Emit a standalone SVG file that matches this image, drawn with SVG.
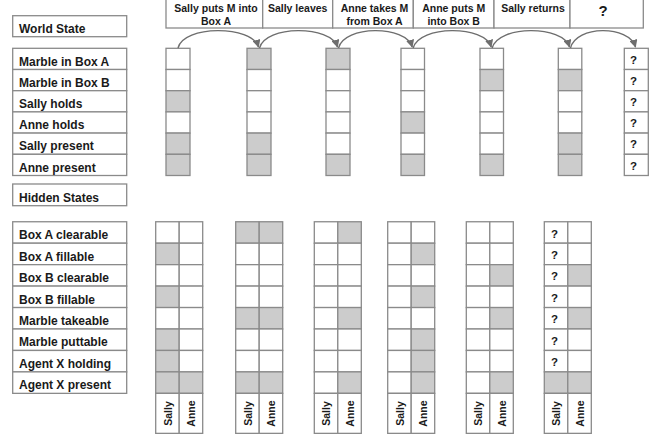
<svg xmlns="http://www.w3.org/2000/svg" width="665" height="438" viewBox="0 0 665 438">
<style>
  .bx { fill: #ffffff; stroke: #8a8a8a; stroke-width: 1.3; }
  .g { fill: #cccccc; stroke: #8a8a8a; stroke-width: 1.3; }
  .lbl { font-family: "Liberation Sans", Arial, sans-serif; font-weight: bold; font-size: 12px; fill: #1a1a1a; }
  .ev { font-family: "Liberation Sans", Arial, sans-serif; font-weight: bold; font-size: 10.5px; fill: #1a1a1a; text-anchor: middle; }
  .q { font-family: "Liberation Sans", Arial, sans-serif; font-weight: bold; font-size: 11.5px; fill: #1a1a1a; }
  .nm { font-family: "Liberation Sans", Arial, sans-serif; font-weight: bold; font-size: 10.5px; fill: #1a1a1a; text-anchor: middle; }
  .arc { fill: none; stroke: #6e6e6e; stroke-width: 1.4; }
</style>
<defs>
  <marker id="ah" viewBox="0 0 10 10" refX="9" refY="5" markerWidth="8" markerHeight="8" orient="auto" markerUnits="userSpaceOnUse">
    <path d="M0,0 L10,5 L0,10 z" fill="#6e6e6e"/>
  </marker>
</defs>
<rect width="665" height="438" fill="#ffffff"/>

<!-- Events -->
<g id="events">
  <rect class="bx" x="166" y="-2" width="96.7" height="30"/>
  <rect class="bx" x="262.7" y="-2" width="70" height="30"/>
  <rect class="bx" x="332.7" y="-2" width="80.6" height="30"/>
  <rect class="bx" x="413.3" y="-2" width="80.7" height="30"/>
  <rect class="bx" x="494" y="-2" width="76" height="30"/>
  <rect class="bx" x="570" y="-2" width="73.3" height="30"/>
  <text class="ev" x="216" y="12">Sally puts M into</text>
  <text class="ev" x="216" y="25">Box A</text>
  <text class="ev" x="297.7" y="12">Sally leaves</text>
  <text class="ev" x="374.5" y="12">Anne takes M</text>
  <text class="ev" x="374.5" y="25">from Box A</text>
  <text class="ev" x="453.7" y="12">Anne puts M</text>
  <text class="ev" x="453.7" y="25">into Box B</text>
  <text class="ev" x="533" y="12">Sally returns</text>
  <text class="ev" x="603" y="16" style="font-size:15px">?</text>
</g>

<!-- World State labels -->
<g id="world-state-title">
  <rect class="bx" x="12.7" y="15.7" width="114" height="21"/>
  <text class="lbl" x="19" y="33">World State</text>
</g>
<g id="world-labels">
  <rect class="bx" x="12.7" y="48.3" width="114" height="21.2"/>
  <rect class="bx" x="12.7" y="69.5" width="114" height="21.2"/>
  <rect class="bx" x="12.7" y="90.7" width="114" height="21.2"/>
  <rect class="bx" x="12.7" y="111.9" width="114" height="21.2"/>
  <rect class="bx" x="12.7" y="133.1" width="114" height="21.2"/>
  <rect class="bx" x="12.7" y="154.3" width="114" height="21.2"/>
  <text class="lbl" x="19" y="65.6">Marble in Box A</text>
  <text class="lbl" x="19" y="86.8">Marble in Box B</text>
  <text class="lbl" x="19" y="108">Sally holds</text>
  <text class="lbl" x="19" y="129.2">Anne holds</text>
  <text class="lbl" x="19" y="150.4">Sally present</text>
  <text class="lbl" x="19" y="171.6">Anne present</text>
</g>

<!-- World columns -->
<g id="world-col-1">
  <rect class="bx" x="166" y="48.3" width="24" height="21.2"/>
  <rect class="bx" x="166" y="69.5" width="24" height="21.2"/>
  <rect class="g" x="166" y="90.7" width="24" height="21.2"/>
  <rect class="bx" x="166" y="111.9" width="24" height="21.2"/>
  <rect class="g" x="166" y="133.1" width="24" height="21.2"/>
  <rect class="g" x="166" y="154.3" width="24" height="21.2"/>
</g>
<g id="world-col-2">
  <rect class="g" x="247" y="48.3" width="24" height="21.2"/>
  <rect class="bx" x="247" y="69.5" width="24" height="21.2"/>
  <rect class="bx" x="247" y="90.7" width="24" height="21.2"/>
  <rect class="bx" x="247" y="111.9" width="24" height="21.2"/>
  <rect class="g" x="247" y="133.1" width="24" height="21.2"/>
  <rect class="g" x="247" y="154.3" width="24" height="21.2"/>
</g>
<g id="world-col-3">
  <rect class="g" x="326" y="48.3" width="24" height="21.2"/>
  <rect class="bx" x="326" y="69.5" width="24" height="21.2"/>
  <rect class="bx" x="326" y="90.7" width="24" height="21.2"/>
  <rect class="bx" x="326" y="111.9" width="24" height="21.2"/>
  <rect class="bx" x="326" y="133.1" width="24" height="21.2"/>
  <rect class="g" x="326" y="154.3" width="24" height="21.2"/>
</g>
<g id="world-col-4">
  <rect class="bx" x="401" y="48.3" width="23.5" height="21.2"/>
  <rect class="bx" x="401" y="69.5" width="23.5" height="21.2"/>
  <rect class="bx" x="401" y="90.7" width="23.5" height="21.2"/>
  <rect class="g" x="401" y="111.9" width="23.5" height="21.2"/>
  <rect class="bx" x="401" y="133.1" width="23.5" height="21.2"/>
  <rect class="g" x="401" y="154.3" width="23.5" height="21.2"/>
</g>
<g id="world-col-5">
  <rect class="bx" x="480" y="48.3" width="23.5" height="21.2"/>
  <rect class="g" x="480" y="69.5" width="23.5" height="21.2"/>
  <rect class="bx" x="480" y="90.7" width="23.5" height="21.2"/>
  <rect class="bx" x="480" y="111.9" width="23.5" height="21.2"/>
  <rect class="bx" x="480" y="133.1" width="23.5" height="21.2"/>
  <rect class="g" x="480" y="154.3" width="23.5" height="21.2"/>
</g>
<g id="world-col-6">
  <rect class="bx" x="558.3" y="48.3" width="23.5" height="21.2"/>
  <rect class="g" x="558.3" y="69.5" width="23.5" height="21.2"/>
  <rect class="bx" x="558.3" y="90.7" width="23.5" height="21.2"/>
  <rect class="bx" x="558.3" y="111.9" width="23.5" height="21.2"/>
  <rect class="g" x="558.3" y="133.1" width="23.5" height="21.2"/>
  <rect class="g" x="558.3" y="154.3" width="23.5" height="21.2"/>
</g>
<g id="world-col-7">
  <rect class="bx" x="624.3" y="48.3" width="24" height="21.2"/>
  <rect class="bx" x="624.3" y="69.5" width="24" height="21.2"/>
  <rect class="bx" x="624.3" y="90.7" width="24" height="21.2"/>
  <rect class="bx" x="624.3" y="111.9" width="24" height="21.2"/>
  <rect class="bx" x="624.3" y="133.1" width="24" height="21.2"/>
  <rect class="bx" x="624.3" y="154.3" width="24" height="21.2"/>
  <text class="q" x="630" y="63.6">?</text>
  <text class="q" x="630" y="84.8">?</text>
  <text class="q" x="630" y="106">?</text>
  <text class="q" x="630" y="127.2">?</text>
  <text class="q" x="630" y="148.4">?</text>
  <text class="q" x="630" y="169.6">?</text>
</g>

<!-- Connectors -->
<g id="connectors">
  <path class="arc" d="M178,48 C183,25 252,25 258.5,47" marker-end="url(#ah)"/>
  <path class="arc" d="M259.5,48 C265,25 331,25 337.5,47" marker-end="url(#ah)"/>
  <path class="arc" d="M338.5,48 C344,25 406,25 412.2,47" marker-end="url(#ah)"/>
  <path class="arc" d="M413.2,48 C419,25 485,25 491.2,47" marker-end="url(#ah)"/>
  <path class="arc" d="M492.2,48 C498,25 563,25 569.5,47" marker-end="url(#ah)"/>
  <path class="arc" d="M570.5,48 C576,25 629,25 635.5,47" marker-end="url(#ah)"/>
</g>

<!-- Hidden States labels -->
<g id="hidden-states-title">
  <rect class="bx" x="12.7" y="184" width="114" height="21.7"/>
  <text class="lbl" x="19" y="202">Hidden States</text>
</g>
<g id="hidden-labels">
  <rect class="bx" x="12.7" y="221.75" width="114" height="21.45"/>
  <rect class="bx" x="12.7" y="243.2" width="114" height="21.45"/>
  <rect class="bx" x="12.7" y="264.65" width="114" height="21.45"/>
  <rect class="bx" x="12.7" y="286.1" width="114" height="21.45"/>
  <rect class="bx" x="12.7" y="307.55" width="114" height="21.45"/>
  <rect class="bx" x="12.7" y="329" width="114" height="21.45"/>
  <rect class="bx" x="12.7" y="350.45" width="114" height="21.45"/>
  <rect class="bx" x="12.7" y="371.9" width="114" height="21.45"/>
  <text class="lbl" x="19" y="239.2">Box A clearable</text>
  <text class="lbl" x="19" y="260.65">Box A fillable</text>
  <text class="lbl" x="19" y="282.1">Box B clearable</text>
  <text class="lbl" x="19" y="303.55">Box B fillable</text>
  <text class="lbl" x="19" y="325">Marble takeable</text>
  <text class="lbl" x="19" y="346.45">Marble puttable</text>
  <text class="lbl" x="19" y="367.9">Agent X holding</text>
  <text class="lbl" x="19" y="389.35">Agent X present</text>
</g>

<!-- Hidden grids: columns Sally / Anne -->
<g id="hidden-grid-1">
  <rect class="bx" x="155.7" y="221.75" width="23.5" height="21.45"/><rect class="bx" x="179.2" y="221.75" width="23.5" height="21.45"/>
  <rect class="g" x="155.7" y="243.2" width="23.5" height="21.45"/><rect class="bx" x="179.2" y="243.2" width="23.5" height="21.45"/>
  <rect class="bx" x="155.7" y="264.65" width="23.5" height="21.45"/><rect class="bx" x="179.2" y="264.65" width="23.5" height="21.45"/>
  <rect class="g" x="155.7" y="286.1" width="23.5" height="21.45"/><rect class="bx" x="179.2" y="286.1" width="23.5" height="21.45"/>
  <rect class="bx" x="155.7" y="307.55" width="23.5" height="21.45"/><rect class="bx" x="179.2" y="307.55" width="23.5" height="21.45"/>
  <rect class="g" x="155.7" y="329" width="23.5" height="21.45"/><rect class="bx" x="179.2" y="329" width="23.5" height="21.45"/>
  <rect class="g" x="155.7" y="350.45" width="23.5" height="21.45"/><rect class="bx" x="179.2" y="350.45" width="23.5" height="21.45"/>
  <rect class="g" x="155.7" y="371.9" width="23.5" height="21.45"/><rect class="g" x="179.2" y="371.9" width="23.5" height="21.45"/>
  <rect class="bx" x="155.7" y="393.35" width="23.5" height="40"/><rect class="bx" x="179.2" y="393.35" width="23.5" height="40"/>
  <text class="nm" transform="translate(171.6,413.5) rotate(-90)">Sally</text>
  <text class="nm" transform="translate(195.1,413.5) rotate(-90)">Anne</text>
</g>
<g id="hidden-grid-2">
  <rect class="g" x="235.7" y="221.75" width="23.5" height="21.45"/><rect class="g" x="259.2" y="221.75" width="23.5" height="21.45"/>
  <rect class="bx" x="235.7" y="243.2" width="23.5" height="21.45"/><rect class="bx" x="259.2" y="243.2" width="23.5" height="21.45"/>
  <rect class="bx" x="235.7" y="264.65" width="23.5" height="21.45"/><rect class="bx" x="259.2" y="264.65" width="23.5" height="21.45"/>
  <rect class="bx" x="235.7" y="286.1" width="23.5" height="21.45"/><rect class="bx" x="259.2" y="286.1" width="23.5" height="21.45"/>
  <rect class="g" x="235.7" y="307.55" width="23.5" height="21.45"/><rect class="g" x="259.2" y="307.55" width="23.5" height="21.45"/>
  <rect class="bx" x="235.7" y="329" width="23.5" height="21.45"/><rect class="bx" x="259.2" y="329" width="23.5" height="21.45"/>
  <rect class="bx" x="235.7" y="350.45" width="23.5" height="21.45"/><rect class="bx" x="259.2" y="350.45" width="23.5" height="21.45"/>
  <rect class="g" x="235.7" y="371.9" width="23.5" height="21.45"/><rect class="g" x="259.2" y="371.9" width="23.5" height="21.45"/>
  <rect class="bx" x="235.7" y="393.35" width="23.5" height="40"/><rect class="bx" x="259.2" y="393.35" width="23.5" height="40"/>
  <text class="nm" transform="translate(251.6,413.5) rotate(-90)">Sally</text>
  <text class="nm" transform="translate(275.1,413.5) rotate(-90)">Anne</text>
</g>
<g id="hidden-grid-3">
  <rect class="bx" x="314.3" y="221.75" width="23.5" height="21.45"/><rect class="g" x="337.8" y="221.75" width="23.5" height="21.45"/>
  <rect class="bx" x="314.3" y="243.2" width="23.5" height="21.45"/><rect class="bx" x="337.8" y="243.2" width="23.5" height="21.45"/>
  <rect class="bx" x="314.3" y="264.65" width="23.5" height="21.45"/><rect class="bx" x="337.8" y="264.65" width="23.5" height="21.45"/>
  <rect class="bx" x="314.3" y="286.1" width="23.5" height="21.45"/><rect class="bx" x="337.8" y="286.1" width="23.5" height="21.45"/>
  <rect class="bx" x="314.3" y="307.55" width="23.5" height="21.45"/><rect class="g" x="337.8" y="307.55" width="23.5" height="21.45"/>
  <rect class="bx" x="314.3" y="329" width="23.5" height="21.45"/><rect class="bx" x="337.8" y="329" width="23.5" height="21.45"/>
  <rect class="bx" x="314.3" y="350.45" width="23.5" height="21.45"/><rect class="bx" x="337.8" y="350.45" width="23.5" height="21.45"/>
  <rect class="bx" x="314.3" y="371.9" width="23.5" height="21.45"/><rect class="g" x="337.8" y="371.9" width="23.5" height="21.45"/>
  <rect class="bx" x="314.3" y="393.35" width="23.5" height="40"/><rect class="bx" x="337.8" y="393.35" width="23.5" height="40"/>
  <text class="nm" transform="translate(330.2,413.5) rotate(-90)">Sally</text>
  <text class="nm" transform="translate(353.7,413.5) rotate(-90)">Anne</text>
</g>
<g id="hidden-grid-4">
  <rect class="bx" x="387.7" y="221.75" width="23.5" height="21.45"/><rect class="bx" x="411.2" y="221.75" width="23.5" height="21.45"/>
  <rect class="bx" x="387.7" y="243.2" width="23.5" height="21.45"/><rect class="g" x="411.2" y="243.2" width="23.5" height="21.45"/>
  <rect class="bx" x="387.7" y="264.65" width="23.5" height="21.45"/><rect class="bx" x="411.2" y="264.65" width="23.5" height="21.45"/>
  <rect class="bx" x="387.7" y="286.1" width="23.5" height="21.45"/><rect class="g" x="411.2" y="286.1" width="23.5" height="21.45"/>
  <rect class="bx" x="387.7" y="307.55" width="23.5" height="21.45"/><rect class="bx" x="411.2" y="307.55" width="23.5" height="21.45"/>
  <rect class="bx" x="387.7" y="329" width="23.5" height="21.45"/><rect class="g" x="411.2" y="329" width="23.5" height="21.45"/>
  <rect class="bx" x="387.7" y="350.45" width="23.5" height="21.45"/><rect class="g" x="411.2" y="350.45" width="23.5" height="21.45"/>
  <rect class="bx" x="387.7" y="371.9" width="23.5" height="21.45"/><rect class="g" x="411.2" y="371.9" width="23.5" height="21.45"/>
  <rect class="bx" x="387.7" y="393.35" width="23.5" height="40"/><rect class="bx" x="411.2" y="393.35" width="23.5" height="40"/>
  <text class="nm" transform="translate(403.6,413.5) rotate(-90)">Sally</text>
  <text class="nm" transform="translate(427.1,413.5) rotate(-90)">Anne</text>
</g>
<g id="hidden-grid-5">
  <rect class="bx" x="466.3" y="221.75" width="23.5" height="21.45"/><rect class="bx" x="489.8" y="221.75" width="23.5" height="21.45"/>
  <rect class="bx" x="466.3" y="243.2" width="23.5" height="21.45"/><rect class="bx" x="489.8" y="243.2" width="23.5" height="21.45"/>
  <rect class="bx" x="466.3" y="264.65" width="23.5" height="21.45"/><rect class="g" x="489.8" y="264.65" width="23.5" height="21.45"/>
  <rect class="bx" x="466.3" y="286.1" width="23.5" height="21.45"/><rect class="bx" x="489.8" y="286.1" width="23.5" height="21.45"/>
  <rect class="bx" x="466.3" y="307.55" width="23.5" height="21.45"/><rect class="g" x="489.8" y="307.55" width="23.5" height="21.45"/>
  <rect class="bx" x="466.3" y="329" width="23.5" height="21.45"/><rect class="bx" x="489.8" y="329" width="23.5" height="21.45"/>
  <rect class="bx" x="466.3" y="350.45" width="23.5" height="21.45"/><rect class="bx" x="489.8" y="350.45" width="23.5" height="21.45"/>
  <rect class="bx" x="466.3" y="371.9" width="23.5" height="21.45"/><rect class="g" x="489.8" y="371.9" width="23.5" height="21.45"/>
  <rect class="bx" x="466.3" y="393.35" width="23.5" height="40"/><rect class="bx" x="489.8" y="393.35" width="23.5" height="40"/>
  <text class="nm" transform="translate(482.2,413.5) rotate(-90)">Sally</text>
  <text class="nm" transform="translate(505.7,413.5) rotate(-90)">Anne</text>
</g>
<g id="hidden-grid-6">
  <rect class="bx" x="544.3" y="221.75" width="23.5" height="21.45"/><rect class="bx" x="567.8" y="221.75" width="23.5" height="21.45"/>
  <rect class="bx" x="544.3" y="243.2" width="23.5" height="21.45"/><rect class="bx" x="567.8" y="243.2" width="23.5" height="21.45"/>
  <rect class="bx" x="544.3" y="264.65" width="23.5" height="21.45"/><rect class="g" x="567.8" y="264.65" width="23.5" height="21.45"/>
  <rect class="bx" x="544.3" y="286.1" width="23.5" height="21.45"/><rect class="bx" x="567.8" y="286.1" width="23.5" height="21.45"/>
  <rect class="bx" x="544.3" y="307.55" width="23.5" height="21.45"/><rect class="g" x="567.8" y="307.55" width="23.5" height="21.45"/>
  <rect class="bx" x="544.3" y="329" width="23.5" height="21.45"/><rect class="bx" x="567.8" y="329" width="23.5" height="21.45"/>
  <rect class="bx" x="544.3" y="350.45" width="23.5" height="21.45"/><rect class="bx" x="567.8" y="350.45" width="23.5" height="21.45"/>
  <rect class="g" x="544.3" y="371.9" width="23.5" height="21.45"/><rect class="g" x="567.8" y="371.9" width="23.5" height="21.45"/>
  <rect class="bx" x="544.3" y="393.35" width="23.5" height="40"/><rect class="bx" x="567.8" y="393.35" width="23.5" height="40"/>
  <text class="q" x="551" y="237.5">?</text>
  <text class="q" x="551" y="258.95">?</text>
  <text class="q" x="551" y="280.4">?</text>
  <text class="q" x="551" y="301.85">?</text>
  <text class="q" x="551" y="323.3">?</text>
  <text class="q" x="551" y="344.75">?</text>
  <text class="q" x="551" y="366.2">?</text>
  <text class="nm" transform="translate(560.2,413.5) rotate(-90)">Sally</text>
  <text class="nm" transform="translate(583.7,413.5) rotate(-90)">Anne</text>
</g>
</svg>
